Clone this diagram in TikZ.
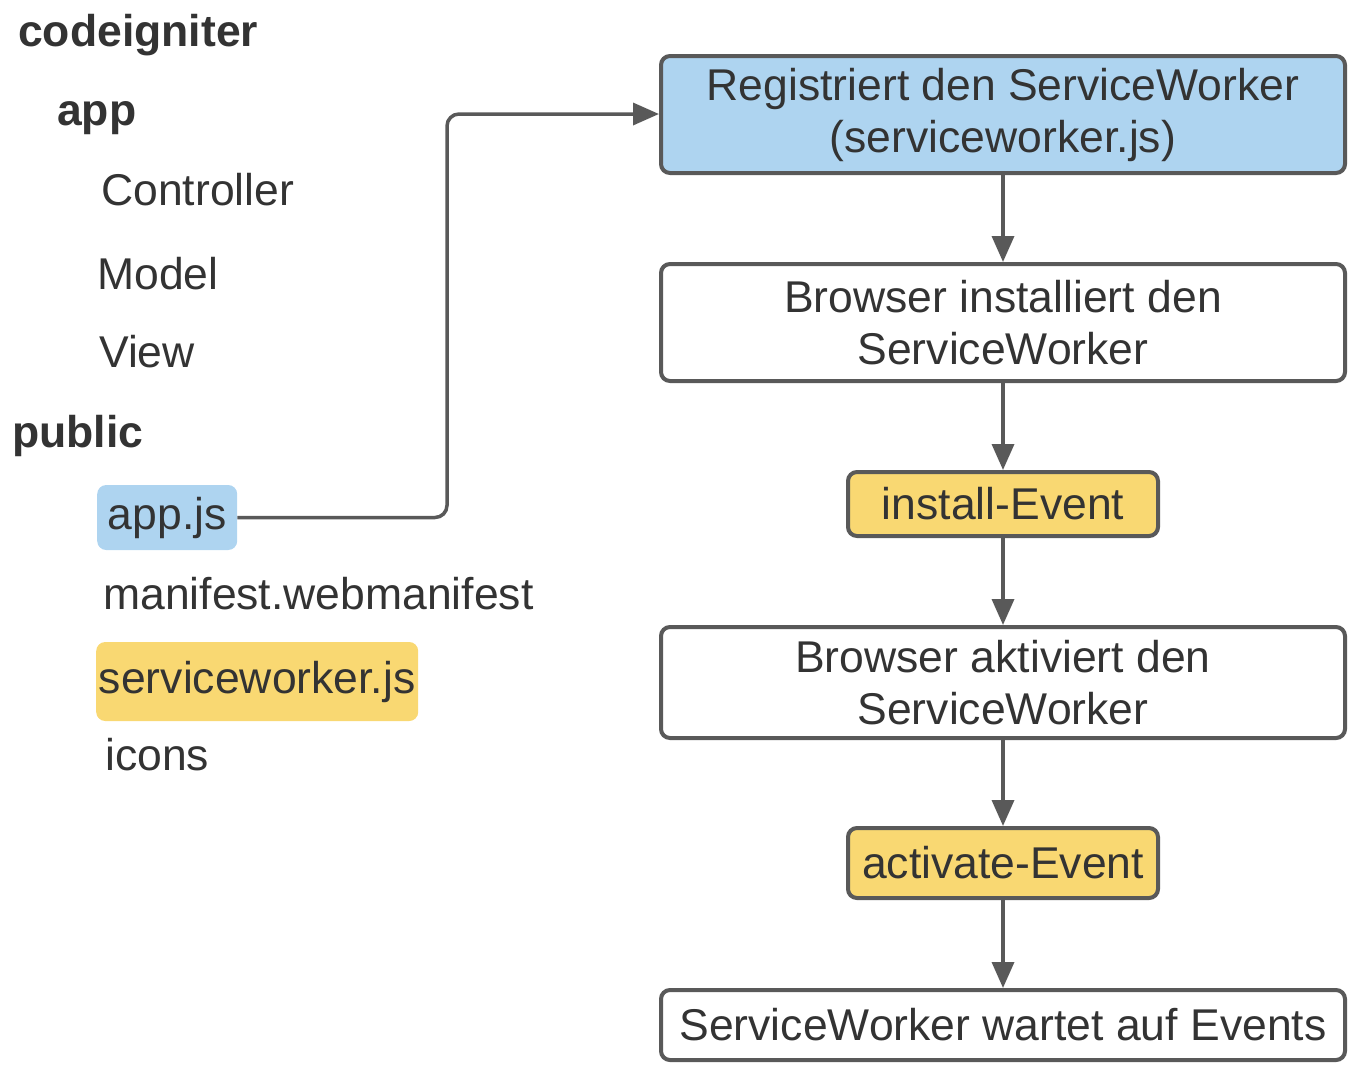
\documentclass[tikz,border=0pt]{standalone}
\usepackage{fontspec}
\setmainfont{Liberation Sans}
\usetikzlibrary{arrows.meta}
\definecolor{txt}{HTML}{333333}
\definecolor{brd}{HTML}{595959}
\definecolor{lblue}{HTML}{AED4F0}
\definecolor{lyel}{HTML}{F9D872}
\tikzset{
  box/.style={draw=brd, line width=4pt, rounded corners=9pt, text=txt, align=center,
    inner sep=0pt, font=\fontsize{44.5}{52}\selectfont},
  lbl/.style={anchor=west, text=txt, inner sep=0pt, font=\fontsize{44.5}{52}\selectfont},
  blbl/.style={lbl, font=\fontsize{44.5}{52}\selectfont\bfseries},
  hl/.style={rounded corners=9pt, inner sep=0pt, text=txt, font=\fontsize{44.5}{52}\selectfont},
  conn/.style={draw=brd, line width=3.5pt, -{Triangle[length=26pt,width=22pt]}},
}
\begin{document}
\begin{tikzpicture}[x=1pt,y=-1pt]
\useasboundingbox (0,0) rectangle (1360,1072);
% left tree
\node[blbl] (ci) at (18,35) {codeigniter};
\node[blbl] (app) at (57,118) {app};
\node[lbl] (ctrl) at (101,190) {Controller};
\node[lbl] (model) at (97,274) {Model};
\node[lbl] (view) at (99,352) {View};
\node[blbl] (pub) at (12,436) {public};
\node[hl, fill=lblue, minimum width=140pt, minimum height=65pt, anchor=west] (appjs) at (97,517.5) {\raisebox{-3pt}{app.js}};
\node[lbl] (mani) at (103,594) {manifest.webmanifest};
\node[hl, fill=lyel, minimum width=322pt, minimum height=79pt, anchor=west] (sw) at (96,681.5) {serviceworker.js};
\node[lbl] (icons) at (105,755) {icons};
% flow
\node[box, fill=lblue, minimum width=684pt, minimum height=117pt] (b1) at (1003,114.5) {Registriert den ServiceWorker\\(serviceworker.js)};
\node[box, fill=white, minimum width=684pt, minimum height=117pt] (b2) at (1003,322.5) {Browser installiert den\\ServiceWorker};
\node[box, fill=lyel, minimum width=310pt, minimum height=64pt] (b3) at (1003,504) {install-Event};
\node[box, fill=white, minimum width=684pt, minimum height=111pt] (b4) at (1003,682.5) {Browser aktiviert den\\ServiceWorker};
\node[box, fill=lyel, minimum width=310pt, minimum height=70pt] (b5) at (1003,863) {activate-Event};
\node[box, fill=white, minimum width=684pt, minimum height=70pt] (b6) at (1003,1025) {ServiceWorker wartet auf Events};
\coordinate (k1) at (447,517.5);
\coordinate (k2) at (447,114);
\draw[conn, rounded corners=12pt] (appjs.east) -- (k1) -- (k2) -- (b1.west |- k2);
\draw[conn] (b1.south) -- (b2.north);
\draw[conn] (b2.south) -- (b3.north);
\draw[conn] (b3.south) -- (b4.north);
\draw[conn] (b4.south) -- (b5.north);
\draw[conn] (b5.south) -- (b6.north);
\end{tikzpicture}
\end{document}
